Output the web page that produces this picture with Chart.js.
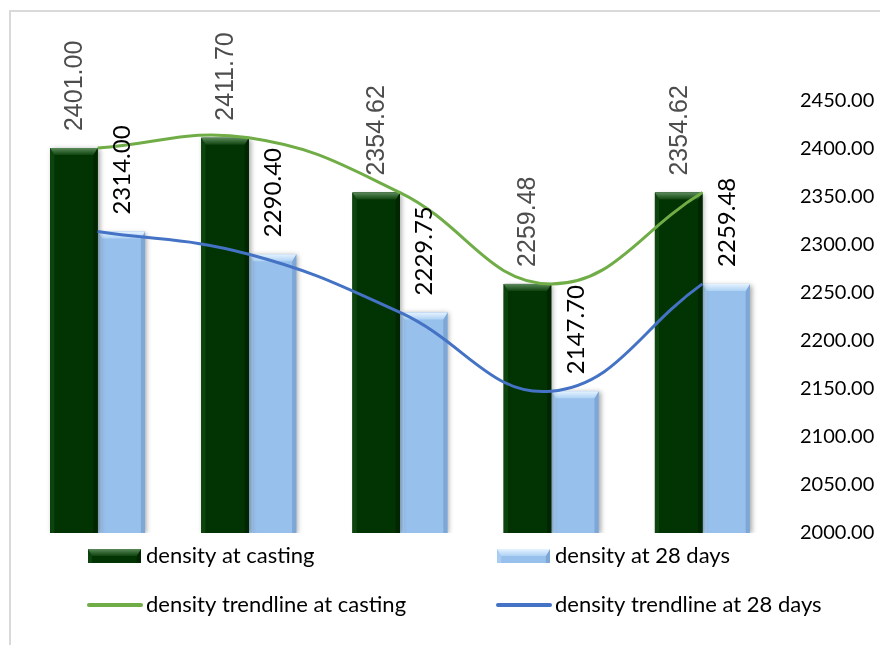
<!DOCTYPE html>
<html>
<head>
<meta charset="utf-8">
<script src="https://cdn.jsdelivr.net/npm/chart.js@4"></script>
<style>
  html, body { margin: 0; padding: 0; background: #fff; }
  #wrap { position: relative; width: 880px; height: 645px; overflow: hidden; }
  #frame { position: absolute; left: 9px; top: 10px; width: 1000px; height: 1000px;
           border-top: 2px solid #d9d9d9; border-left: 2px solid #d9d9d9; }
  #c { position: absolute; left: 0; top: 0; }
</style>
</head>
<body>
<div id="wrap">
  <div id="frame"></div>
  <canvas id="c" width="880" height="645"></canvas>
</div>
<script>
// Mix identifiers (not shown on the axis)
const categories = ['M1', 'M2', 'M3', 'M4', 'M5'];
// Densities in kg/m³
const castingDensity = [2401.00, 2411.70, 2354.62, 2259.48, 2354.62];
const density28Days  = [2314.00, 2290.40, 2229.75, 2147.70, 2259.48];
// Right-hand value axis
const axisMin = 2000;
const axisMax = 2450;
const axisStep = 50;

const seriesNames = ['density at casting', 'density at 28 days',
                     'density trendline at casting', 'density trendline at 28 days'];

const STYLE = {
  dark:  { base: '#023302', edgeL: '#0d440d', edgeR: '#012601', topA: '#5c8a5c', topB: '#0e430e' },
  light: { base: '#97c0ec', edgeL: '#a9cdf2', edgeR: '#7fa7d6', topA: '#e6f3ff', topB: '#aed2f4' },
  green: '#70ad47',
  blue:  '#4472c4'
};

// Bevelled bar face: lighter top chamfer and shaded side strips
function drawBevel(ctx, l, r, t, b, s) {
  const e = Math.min(7, (r - l) / 4, (b - t) / 2);
  ctx.save();
  ctx.fillStyle = s.base;
  ctx.fillRect(l, t, r - l, b - t);
  ctx.fillStyle = s.edgeL;
  ctx.beginPath(); ctx.moveTo(l, t); ctx.lineTo(l + e * 0.6, t + e); ctx.lineTo(l + e * 0.6, b); ctx.lineTo(l, b); ctx.closePath(); ctx.fill();
  ctx.fillStyle = s.edgeR;
  ctx.beginPath(); ctx.moveTo(r, t); ctx.lineTo(r - e * 0.6, t + e); ctx.lineTo(r - e * 0.6, b); ctx.lineTo(r, b); ctx.closePath(); ctx.fill();
  const g = ctx.createLinearGradient(0, t, 0, t + e);
  g.addColorStop(0, s.topA);
  g.addColorStop(1, s.topB);
  ctx.fillStyle = g;
  ctx.beginPath(); ctx.moveTo(l, t); ctx.lineTo(r, t); ctx.lineTo(r - e * 0.6, t + e); ctx.lineTo(l + e * 0.6, t + e); ctx.closePath(); ctx.fill();
  ctx.restore();
}

const barLook = {
  id: 'barLook',
  beforeDatasetDraw(chart, args) {
    if (args.meta.type !== 'bar') return;
    const ctx = chart.ctx;
    ctx.save();
    ctx.shadowColor = 'rgba(0,0,0,0.35)';
    ctx.shadowBlur = 5;
    ctx.shadowOffsetX = 2;
    ctx.shadowOffsetY = 1;
  },
  afterDatasetDraw(chart, args) {
    if (args.meta.type !== 'bar') return;
    const ctx = chart.ctx;
    ctx.restore();
    const s = args.index === 0 ? STYLE.dark : STYLE.light;
    const bottom = chart.chartArea.bottom;
    args.meta.data.forEach(el => {
      const p = el.getProps(['x', 'y', 'width', 'base'], true);
      drawBevel(ctx, p.x - p.width / 2, p.x + p.width / 2, p.y, Math.min(p.base, bottom), s);
    });
  }
};

// Rotated value labels above each bar
const valueLabels = {
  id: 'valueLabels',
  afterDatasetsDraw(chart) {
    const ctx = chart.ctx;
    [0, 1].forEach(di => {
      const meta = chart.getDatasetMeta(di);
      const vals = chart.data.datasets[di].data;
      meta.data.forEach((el, i) => {
        ctx.save();
        ctx.translate(el.x + 1, el.y - 17);
        ctx.rotate(-Math.PI / 2);
        ctx.textAlign = 'left';
        ctx.textBaseline = 'middle';
        if (di === 0) { ctx.font = '25px "Liberation Sans"'; ctx.fillStyle = '#4d4d4d'; }
        else { ctx.font = '24px Lato'; ctx.fillStyle = '#000'; }
        ctx.fillText(vals[i].toFixed(2), 0, 0);
        ctx.restore();
      });
    });
  }
};

// Two-row legend under the plot
const legendBlock = {
  id: 'legendBlock',
  afterDraw(chart) {
    const ctx = chart.ctx;
    const cols = [88, 497];
    const rows = [556, 605];
    const iconW = 53;
    ctx.save();
    ctx.font = '22px Lato';
    ctx.textBaseline = 'middle';
    ctx.textAlign = 'left';
    // bar swatches
    drawBevel(ctx, cols[0], cols[0] + iconW, rows[0] - 7, rows[0] + 7, STYLE.dark);
    drawBevel(ctx, cols[1], cols[1] + iconW, rows[0] - 7, rows[0] + 7, STYLE.light);
    // line swatches
    ctx.lineCap = 'round';
    ctx.lineWidth = 4;
    ctx.strokeStyle = STYLE.green;
    ctx.beginPath(); ctx.moveTo(cols[0] + 1, rows[1]); ctx.lineTo(cols[0] + iconW, rows[1]); ctx.stroke();
    ctx.strokeStyle = STYLE.blue;
    ctx.beginPath(); ctx.moveTo(cols[1] + 1, rows[1]); ctx.lineTo(cols[1] + iconW, rows[1]); ctx.stroke();
    ctx.fillStyle = '#000';
    ctx.fillText(seriesNames[0], cols[0] + iconW + 5, rows[0]);
    ctx.fillText(seriesNames[1], cols[1] + iconW + 5, rows[0]);
    ctx.fillText(seriesNames[2], cols[0] + iconW + 5, rows[1]);
    ctx.fillText(seriesNames[3], cols[1] + iconW + 5, rows[1]);
    ctx.restore();
  }
};

new Chart(document.getElementById('c'), {
  data: {
    labels: categories,
    datasets: [
      { type: 'bar', label: seriesNames[0], data: castingDensity, backgroundColor: STYLE.dark.base,
        base: axisMin, categoryPercentage: 0.628, barPercentage: 1.0, order: 1 },
      { type: 'bar', label: seriesNames[1], data: density28Days, backgroundColor: STYLE.light.base,
        base: axisMin, categoryPercentage: 0.628, barPercentage: 1.0, order: 2 },
      { type: 'line', label: seriesNames[2], data: castingDensity, borderColor: STYLE.green,
        borderWidth: 3, pointRadius: 0, tension: 0.42, fill: false, order: 0 },
      { type: 'line', label: seriesNames[3], data: density28Days, borderColor: STYLE.blue,
        borderWidth: 3, pointRadius: 0, tension: 0.42, fill: false, order: 0 }
    ]
  },
  options: {
    responsive: false,
    animation: false,
    layout: { padding: { left: 22, right: 0, top: 101, bottom: 112 } },
    plugins: { legend: { display: false }, tooltip: { enabled: false } },
    scales: {
      x: { display: false, offset: true },
      y: {
        position: 'right',
        min: axisMin, max: axisMax,
        grid: { display: false, drawTicks: false },
        border: { display: false },
        afterFit(scale) { scale.width = 102; },
        ticks: {
          stepSize: axisStep,
          padding: 22,
          color: '#000',
          font: { family: 'Lato', size: 20 },
          callback: v => Number(v).toFixed(2)
        }
      }
    }
  },
  plugins: [barLook, valueLabels, legendBlock]
});
</script>
</body>
</html>
